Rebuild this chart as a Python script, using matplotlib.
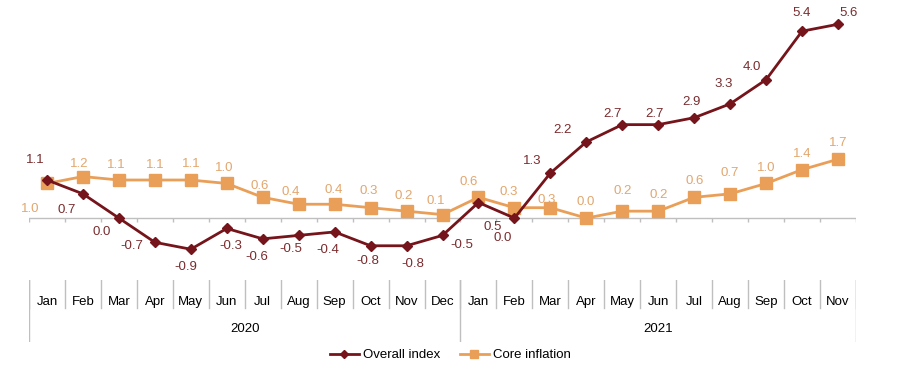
import matplotlib
matplotlib.use("Agg")
import matplotlib.pyplot as plt
import numpy as np

months = ["Jan", "Feb", "Mar", "Apr", "May", "Jun", "Jul", "Aug", "Sep", "Oct", "Nov", "Dec",
          "Jan", "Feb", "Mar", "Apr", "May", "Jun", "Jul", "Aug", "Sep", "Oct", "Nov"]
years = ["2020", "2021"]
year_counts = [12, 11]

overall = [1.1, 0.7, 0.0, -0.7, -0.9, -0.3, -0.6, -0.5, -0.4, -0.8, -0.8, -0.5,
           0.45, 0.0, 1.3, 2.2, 2.7, 2.7, 2.9, 3.3, 4.0, 5.4, 5.6]
overall_labels = ["1.1", "0.7", "0.0", "-0.7", "-0.9", "-0.3", "-0.6", "-0.5", "-0.4", "-0.8", "-0.8", "-0.5",
                  "0.5", "0.0", "1.3", "2.2", "2.7", "2.7", "2.9", "3.3", "4.0", "5.4", "5.6"]
core = [1.0, 1.2, 1.1, 1.1, 1.1, 1.0, 0.6, 0.4, 0.4, 0.3, 0.2, 0.1,
        0.6, 0.3, 0.3, 0.0, 0.2, 0.2, 0.6, 0.7, 1.0, 1.4, 1.7]

# label offsets in pixels (dx, dy down)
overall_off = [(-12, -20), (-16, 16), (-17, 14), (-23, 4), (-5, 18), (4, 18), (-6, 18), (-8, 14),
               (-7, 18), (-3, 15), (6, 18), (19, 10), (14, 24), (-12, 20), (-18, -12), (-24, -12),
               (-10, -11), (-4, -11), (-3, -16), (-7, -20), (-14, -13), (0, -18), (11, -11)]
core_off = [(-17, 26), (-4, -13), (-3, -15), (0, -15), (0, -16), (-3, -15), (-3, -11), (-8, -12),
            (-1, -14), (-2, -17), (-3, -15), (-7, -14), (-10, -15), (-6, -16), (-4, -8), (-1, -16),
            (0, -20), (0, -16), (0, -16), (0, -21), (0, -15), (0, -16), (0, -16)]

RED = "#75141A"
RED_TXT = "#7A2C2E"
ORANGE = "#E99F58"
ORANGE_TXT = "#E2A66E"
GRID = "#BFBFBF"

plt.rcParams["font.family"] = ["Liberation Sans", "DejaVu Sans"]

W, H = 900, 374
fig = plt.figure(figsize=(9, 3.74), dpi=100)

x0, x1 = 29, 856
ax = fig.add_axes([x0 / W, 1 - 270 / H, (x1 - x0) / W, 266.5 / H])
n = len(months)
x = np.arange(n)
ax.set_xlim(-0.5, n - 0.5)
ax.set_ylim(-1.5, 6.2)
ax.axis("off")

ax.axhline(0, color=GRID, lw=1, zorder=1)
ax.vlines(np.arange(n + 1) - 0.5, -0.12, 0, color=GRID, lw=1, zorder=1)

ax.plot(x, core, color=ORANGE, lw=2, marker="s", ms=8, zorder=3, label="Core inflation")
ax.plot(x, overall, color=RED, lw=2, marker="D", ms=5.5, zorder=4, label="Overall index")

for i in range(n):
    dx, dy = overall_off[i]
    ax.annotate(overall_labels[i], (x[i], overall[i]), xytext=(dx, -dy), textcoords="offset pixels",
                ha="center", va="center", fontsize=9.5, color=RED_TXT)
    dx, dy = core_off[i]
    ax.annotate("%.1f" % core[i], (x[i], core[i]), xytext=(dx, -dy), textcoords="offset pixels",
                ha="center", va="center", fontsize=9.5, color=ORANGE_TXT)

# category table below
cx = fig.add_axes([x0 / W, 1 - 342 / H, (x1 - x0) / W, 62 / H])
cx.set_xlim(-0.5, n - 0.5)
cx.set_ylim(0, 62)
cx.axis("off")
cx.invert_yaxis()
for b in range(n + 1):
    cx.plot([b - 0.5, b - 0.5], [0, 28], color=GRID, lw=1)
start = 0
for y, c in zip(years, year_counts):
    cx.plot([start - 0.5, start - 0.5], [0, 62], color=GRID, lw=1)
    cx.text(start + (c - 1) / 2, 49, y, ha="center", va="center", fontsize=9.5,
            family=["Liberation Sans Narrow", "Liberation Sans"])
    start += c
cx.plot([n - 0.5, n - 0.5], [0, 62], color=GRID, lw=1)
for i, m in enumerate(months):
    cx.text(i, 22, m, ha="center", va="center", fontsize=9.5,
            family=["Liberation Sans Narrow", "Liberation Sans"])

handles, labels = ax.get_legend_handles_labels()
fig.legend(handles[::-1], labels[::-1], loc="center", bbox_to_anchor=(0.5, 1 - 355 / H), ncol=2,
           frameon=False, handlelength=2.2, columnspacing=1.5, handletextpad=0.3,
           prop={"family": ["Liberation Sans Narrow", "Liberation Sans"], "size": 9.5},
           markerscale=0.7)

fig.savefig("out.png", dpi=100)
